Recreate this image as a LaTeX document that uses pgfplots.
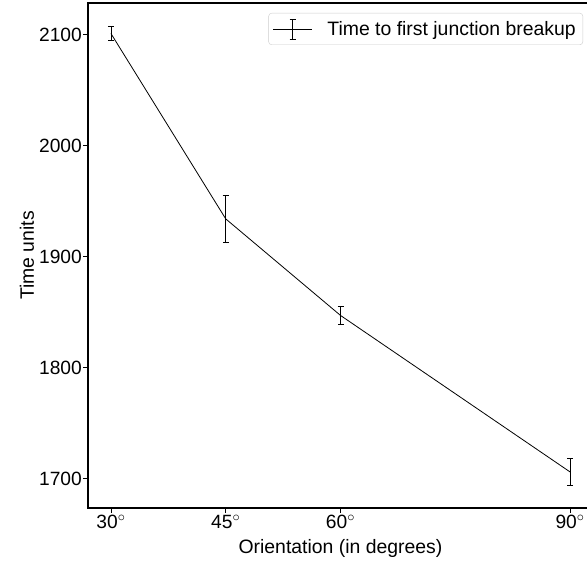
\documentclass[border=0pt]{standalone}
\usepackage{pgfplots}
\pgfplotsset{compat=1.18}
\usepackage{fontspec}
\setmainfont{Liberation Sans}
\begin{document}
\begin{tikzpicture}
\useasboundingbox (-88bp,-57bp) rectangle (499bp,508bp);
\begin{axis}[
  scale only axis,
  width=505bp, height=505bp,
  at={(0,0)}, anchor=south west,
  xmin=27, xmax=93,
  ymin=1673.5, ymax=2128.5,
  xtick={30,45,60,90},
  xticklabels={30$^\circ$,45$^\circ$,60$^\circ$,90$^\circ$},
  ytick={1700,1800,1900,2000,2100},
  tick pos=left,
  tick align=outside,
  major tick length=4.5bp,
  axis line style={line width=1.6bp},
  every tick/.style={black, line width=0.9bp},
  /pgf/number format/assume math mode=true,
  /pgf/number format/1000 sep={},
  tick label style={font=\fontsize{19.2bp}{23bp}\selectfont},
  yticklabel style={inner sep=1.5bp},
  xticklabel style={inner sep=2bp},
  label style={font=\fontsize{19.4bp}{23bp}\selectfont},
  xlabel={Orientation (in degrees)},
  ylabel={Time units},
  xlabel style={at={(axis description cs:0.5,0)}, anchor=center, yshift=-40bp},
  ylabel style={at={(axis description cs:0,0.5)}, anchor=center, yshift=61bp},
  legend style={at={(1,1)}, anchor=north east, xshift=-10bp, yshift=-10bp,
    draw=black!20, rounded corners=3bp, fill=white,
    font=\fontsize{19.4bp}{23bp}\selectfont, inner xsep=4bp, inner ysep=2bp,
    nodes={inner xsep=3bp, inner ysep=6bp}, column sep=12bp},
  legend cell align=left,
  legend image code/.code={
    \draw[black, line width=0.8bp] (0bp,0bp) -- (39bp,0bp);
    \draw[black, line width=0.8bp] (19.5bp,-10bp) -- (19.5bp,10bp);
    \draw[black, line width=0.8bp] (16.5bp,-10bp) -- (22.5bp,-10bp);
    \draw[black, line width=0.8bp] (16.5bp,10bp) -- (22.5bp,10bp);
  },
]
\addplot[black, line width=0.8bp,
  error bars/.cd, y dir=both, y explicit,
  error mark=|,
  error bar style={line width=0.9bp},
  error mark options={black, line width=0.9bp, mark size=3bp}]
  coordinates {
    (30,2101) +- (0,6)
    (45,1934) +- (0,21)
    (60,1847) +- (0,8)
    (90,1706) +- (0,12)
  };
\addlegendentry{Time to first junction breakup}
\end{axis}
\end{tikzpicture}
\end{document}
